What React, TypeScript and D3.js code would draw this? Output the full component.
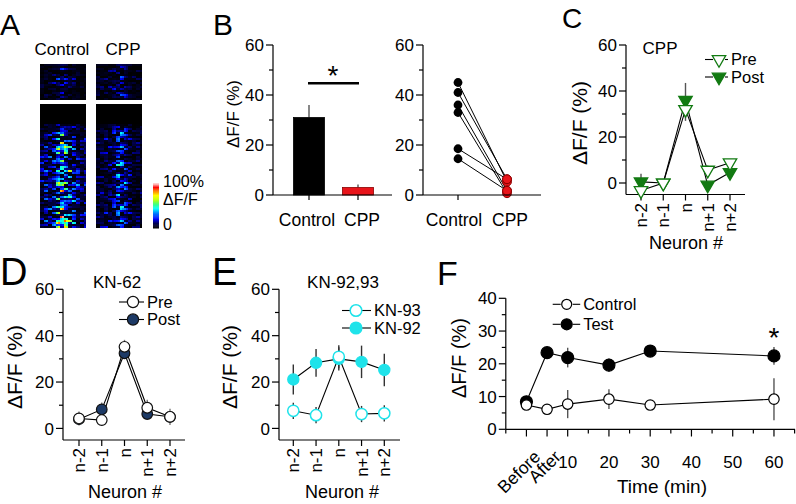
import { useEffect, useRef } from "react";
import * as d3 from "d3";

const FONT = "'Liberation Sans', Arial, Helvetica, sans-serif";

// ---- Panel A: heat maps (coarse grid, 2px cells) ----
const ctrlColProfile = [0.16, 0.18, 0.2, 0.22, 0.24, 0.26, 0.28, 0.32, 0.38, 0.46, 0.56, 0.62, 0.58, 0.48, 0.38, 0.32, 0.28, 0.25, 0.22, 0.2, 0.18, 0.16, 0.14];
const cppColProfile = [0.08, 0.09, 0.1, 0.1, 0.11, 0.12, 0.13, 0.15, 0.18, 0.22, 0.28, 0.32, 0.32, 0.28, 0.24, 0.18, 0.14, 0.12, 0.11, 0.1, 0.09, 0.09, 0.08];
const ctrlRowProfile = [
  0, 0, 0, 0, 0, 0, 0, 0, 0, 0, 0.3, 0.5, 0.6, 0.65, 0.7, 0.72, 0.74, 0.76, 0.78, 0.8,
  0.8, 0.82, 0.84, 0.85, 0.86, 0.86, 0.87, 0.88, 0.9, 0.9, 0.9, 0.92, 0.92, 0.94, 0.95, 0.96, 0.96, 0.97, 0.98, 0.98,
  1, 1, 1, 1, 1, 1, 1, 1, 1, 1, 1, 1, 1, 1, 1, 1, 1, 1, 1, 1, 1, 1,
];
const cppRowProfile = [
  0, 0, 0, 0, 0, 0, 0, 0, 0, 0, 0.4, 0.7, 0.8, 0.85, 0.9, 0.9, 0.9, 0.92, 0.92, 0.94,
  0.94, 0.95, 0.95, 0.96, 0.96, 0.97, 0.97, 0.98, 0.98, 1, 1, 1, 1, 1, 1, 1, 1, 1, 1, 1,
  1, 1, 1, 1, 1, 1, 1, 1, 1, 1, 1, 1, 1, 1, 1, 1, 1, 1, 1, 1, 1, 1,
];
const topRowProfile = [0.15, 0.2, 0.25, 0.3, 0.25, 0.2, 0.3, 0.35, 0.25, 0.3, 0.35, 0.4, 0.3, 0.25, 0.35, 0.3, 0.2, 0.15];
const texture = [0.2, 0.9, 0.4, 0.1, 0.7, 0.5, 0.95, 0.3, 0.05, 0.6, 0.8, 0.25, 0.45, 0.15, 0.85, 0.55, 0.35, 0.75, 0.1, 0.65, 0.9, 0.2, 0.5, 0.3, 0.7, 0.05, 0.4, 0.8, 0.6, 0.15, 1.0, 0.35, 0.25, 0.55, 0.45, 0.7, 0.1];
const colorStops = [0, 0.1, 0.2, 0.33, 0.43, 0.53, 0.63, 0.72, 0.82, 0.9, 1];
const colorValues = ["#000000", "#000050", "#0000ff", "#0080ff", "#00ffff", "#40ff80", "#c0ff00", "#ffff00", "#ff8000", "#ff0000", "#ffffff"];

// ---- Panel B ----
const barGroups = ["Control", "CPP"];
const barMeans = [31, 3];
const barErrors = [5, 1.2];
const pairedControl = [45, 41, 36, 33, 18.5, 14.5];
const pairedCpp = [5.3, 6.3, 1.7, 0.7, 6.3, 1.7];

// ---- Panels C-E ----
const neurons = ["n-2", "n-1", "n", "n+1", "n+2"];
const cppPre = [-3.3, 0, 32, 5.6, 8.8];
const cppPreErr = [1, 1.5, 5, 2, 1.5];
const cppPost = [0.5, 0, 36, -0.9, 4.6];
const cppPostErr = [3.5, 1, 7.5, 1, 1.5];
const kn62Pre = [4.3, 3.6, 35.2, 8.9, 5];
const kn62PreErr = [3, 2.5, 3, 3.5, 3.5];
const kn62Post = [4, 8.2, 32.4, 6.2, 5];
const kn62PostErr = [2, 3, 2, 2, 2];
const kn93 = [7.6, 5.7, 30.9, 6.2, 6.5];
const kn93Err = [3.5, 3.5, 5, 3.5, 3.5];
const kn92 = [21.1, 28.3, 30, 28.7, 25.2];
const kn92Err = [6.5, 6, 5, 7, 7];

// ---- Panel F ----
const fTimes = [0, 5, 10, 20, 30, 60];
const fControl = [7.4, 6.1, 7.7, 9.2, 7.4, 9.2];
const fControlErr = [1.5, 1, 4.3, 3, 1.5, 6.4];
const fTest = [8.4, 23.4, 21.9, 19.6, 23.9, 22.4];
const fTestErr = [1, 1, 3, 2, 1, 2.7];
const fMajorTicks = [0, 5, 10, 20, 30, 40, 50, 60];
const fMajorLabels = ["Before", "After", "10", "20", "30", "40", "50", "60"];
const fMinorTicks = [-5, 15, 25, 35, 45, 55, 65];

const GREEN = "#127a12";
const NAVY = "#1d3a66";
const CYAN = "#1fe3ea";
const RED = "#e8141a";

type Sel = d3.Selection<SVGGElement, unknown, null, undefined>;

function text(g: Sel, x: number, y: number, s: string, size: number, anchor = "start") {
  return g
    .append("text")
    .attr("x", x)
    .attr("y", y)
    .attr("text-anchor", anchor)
    .style("font-family", FONT)
    .style("font-size", `${size}px`)
    .attr("fill", "#000")
    .text(s);
}

function yAxis(g: Sel, y: d3.ScaleLinear<number, number>, x: number, majors: number[], minors: number[], size = 17) {
  const [r0, r1] = y.range();
  g.append("line").attr("x1", x).attr("x2", x).attr("y1", r0).attr("y2", r1).attr("stroke", "#000").attr("stroke-width", 1.2);
  majors.forEach((v) => {
    g.append("line").attr("x1", x - 7).attr("x2", x).attr("y1", y(v)).attr("y2", y(v)).attr("stroke", "#000").attr("stroke-width", 1.2);
    text(g, x - 9, y(v), String(v), size, "end").attr("dy", "0.36em");
  });
  minors.forEach((v) => {
    g.append("line").attr("x1", x - 4).attr("x2", x).attr("y1", y(v)).attr("y2", y(v)).attr("stroke", "#000").attr("stroke-width", 1.2);
  });
}

function xAxisLine(g: Sel, y: number, x0: number, x1: number, ticks: number[], len = 6) {
  g.append("line").attr("x1", x0).attr("x2", x1).attr("y1", y).attr("y2", y).attr("stroke", "#000").attr("stroke-width", 1.2);
  ticks.forEach((t) => {
    g.append("line").attr("x1", t).attr("x2", t).attr("y1", y).attr("y2", y + len).attr("stroke", "#000").attr("stroke-width", 1.2);
  });
}

function rotLabel(g: Sel, x: number, y: number, s: string, size: number) {
  text(g, x, y, s, size, "middle").attr("transform", `rotate(-90,${x},${y})`);
}

function errBars(g: Sel, xs: number[], y: d3.ScaleLinear<number, number>, vals: number[], errs: number[], color = "#555") {
  vals.forEach((v, i) => {
    g.append("line")
      .attr("x1", xs[i]).attr("x2", xs[i])
      .attr("y1", y(v - errs[i])).attr("y2", y(v + errs[i]))
      .attr("stroke", color).attr("stroke-width", 1.4);
  });
}

function seriesLine(g: Sel, xs: number[], y: d3.ScaleLinear<number, number>, vals: number[]) {
  const pts = vals.map((v, i) => [xs[i], y(v)] as [number, number]);
  g.append("path").attr("d", d3.line()(pts)).attr("fill", "none").attr("stroke", "#000").attr("stroke-width", 1.1);
}

function circles(g: Sel, xs: number[], y: d3.ScaleLinear<number, number>, vals: number[], r: number, fill: string, stroke: string, sw = 1.2) {
  vals.forEach((v, i) => {
    g.append("circle").attr("cx", xs[i]).attr("cy", y(v)).attr("r", r).attr("fill", fill).attr("stroke", stroke).attr("stroke-width", sw);
  });
}

const triPath = d3.symbol(d3.symbolTriangle, 78)()!;

function triangles(g: Sel, xs: number[], y: d3.ScaleLinear<number, number>, vals: number[], fill: string) {
  vals.forEach((v, i) => {
    g.append("path").attr("d", triPath).attr("transform", `translate(${xs[i]},${y(v)}) rotate(180)`)
      .attr("fill", fill).attr("stroke", GREEN).attr("stroke-width", 1.3);
  });
}

function legendItem(g: Sel, x: number, y: number, label: string, gap: number, drawMarker: (mx: number, my: number) => void) {
  g.append("line").attr("x1", x - 14).attr("x2", x - 6).attr("y1", y).attr("y2", y).attr("stroke", "#000").attr("stroke-width", 1.1);
  g.append("line").attr("x1", x + 6).attr("x2", x + gap - 3).attr("y1", y).attr("y2", y).attr("stroke", "#000").attr("stroke-width", 1.1);
  drawMarker(x, y);
  text(g, x + gap, y, label, 16.5).attr("dy", "0.36em");
}

function heatmap(g: Sel, x0: number, y0: number, cols: number[], rows: number[], color: (v: number) => string, seed: number) {
  const cell = 2;
  rows.forEach((rv, i) => {
    const rowTex = 0.6 + 0.6 * texture[(i * 17 + seed * 3) % texture.length];
    cols.forEach((cv, j) => {
      const jj = Math.floor(j / 2);
      const k = (i * i * 3 + jj * jj * 5 + i * jj * 7 + i * 11 + jj * 2 + seed) % texture.length;
      const tex = texture[k];
      const v = Math.min(1, cv * rv * rowTex * (0.05 + 1.7 * tex * tex));
      g.append("rect").attr("x", x0 + j * cell).attr("y", y0 + i * cell).attr("width", cell).attr("height", cell).attr("fill", color(v));
    });
  });
}

export default function App() {
  const ref = useRef<SVGSVGElement>(null);

  useEffect(() => {
    if (!ref.current) return;
    const root = d3.select(ref.current);
    root.selectAll("*").remove();
    const g = root.append("g") as unknown as Sel;

    // ===== Panel letters =====
    text(g, 0, 35, "A", 30);
    text(g, 213, 35, "B", 30);
    text(g, 562, 28, "C", 28);
    text(g, 0, 285, "D", 38);
    text(g, 212, 285, "E", 38);
    text(g, 437, 285, "F", 34);

    // ===== Panel A =====
    const cmap = d3.scaleLinear<string>().domain(colorStops).range(colorValues).clamp(true);
    text(g, 62, 55, "Control", 17, "middle");
    text(g, 123, 55, "CPP", 17, "middle");
    g.append("rect").attr("x", 40).attr("y", 64).attr("width", 46).attr("height", 164).attr("fill", "#000");
    g.append("rect").attr("x", 96).attr("y", 64).attr("width", 46).attr("height", 164).attr("fill", "#000");
    heatmap(g, 40, 64, ctrlColProfile, topRowProfile, cmap, 3);
    heatmap(g, 40, 104, ctrlColProfile, ctrlRowProfile, cmap, 0);
    heatmap(g, 96, 64, cppColProfile, topRowProfile.map((r) => r * 2.2), cmap, 17);
    heatmap(g, 96, 104, cppColProfile, cppRowProfile, cmap, 9);
    g.append("rect").attr("x", 38).attr("y", 100).attr("width", 106).attr("height", 4).attr("fill", "#fff");
    // colour bar
    const cbY = d3.scaleLinear().domain([0, 1]).range([228, 183]);
    d3.range(0, 1, 0.02).forEach((v) => {
      g.append("rect").attr("x", 153).attr("y", cbY(v + 0.02)).attr("width", 6).attr("height", cbY(v) - cbY(v + 0.02) + 0.5).attr("fill", cmap(v));
    });
    text(g, 163, 187, "100%", 16);
    text(g, 163, 205, "ΔF/F", 16);
    text(g, 163, 230, "0", 16);

    // ===== Panel B (bars) =====
    const yB = d3.scaleLinear().domain([0, 60]).range([195, 45]);
    const xB = d3.scalePoint<string>().domain(barGroups).range([309, 358]);
    barGroups.forEach((grp, i) => {
      const cx = xB(grp)!;
      g.append("line").attr("x1", cx).attr("x2", cx).attr("y1", yB(barMeans[i])).attr("y2", yB(barMeans[i] + barErrors[i])).attr("stroke", "#555").attr("stroke-width", 1.4);
      g.append("rect").attr("x", cx - 15.5).attr("y", yB(barMeans[i])).attr("width", 31).attr("height", yB(0) - yB(barMeans[i]))
        .attr("fill", i === 0 ? "#000" : RED).attr("stroke", i === 0 ? "#000" : "#8a0000").attr("stroke-width", 0.8);
    });
    yAxis(g, yB, 273, [0, 20, 40, 60], [10, 30, 50]);
    xAxisLine(g, 195, 273, 392, barGroups.map((d) => xB(d)!), 5);
    text(g, 307, 226, barGroups[0], 17.5, "middle");
    text(g, 362, 226, barGroups[1], 17.5, "middle");
    g.append("line").attr("x1", 308).attr("x2", 359).attr("y1", yB(44.7)).attr("y2", yB(44.7)).attr("stroke", "#000").attr("stroke-width", 2.5);
    text(g, 333, 85, "*", 28, "middle");
    rotLabel(g, 239, 114, "ΔF/F (%)", 17);

    // ===== Panel B (paired) =====
    const xB2 = d3.scalePoint<string>().domain(barGroups).range([458, 507]);
    pairedControl.forEach((v, i) => {
      g.append("line").attr("x1", xB2("Control")!).attr("x2", xB2("CPP")!).attr("y1", yB(v)).attr("y2", yB(pairedCpp[i])).attr("stroke", "#000").attr("stroke-width", 1);
    });
    pairedControl.forEach((v) => g.append("circle").attr("cx", xB2("Control")!).attr("cy", yB(v)).attr("r", 4.4).attr("fill", "#000"));
    pairedCpp.forEach((v) => g.append("circle").attr("cx", xB2("CPP")!).attr("cy", yB(v)).attr("r", 4.4).attr("fill", RED).attr("stroke", "#8a0000").attr("stroke-width", 1));
    yAxis(g, yB, 423, [0, 20, 40, 60], [10, 30, 50]);
    xAxisLine(g, 195, 423, 541, [xB2("Control")!], 5);
    text(g, 454, 226, barGroups[0], 17.5, "middle");
    text(g, 510, 226, barGroups[1], 17.5, "middle");

    // ===== Panel C =====
    const yC = d3.scaleLinear().domain([-5, 60]).range([194.5, 45]);
    const xC = d3.scalePoint<string>().domain(neurons).range([641, 730]);
    const xsC = neurons.map((n) => xC(n)!);
    yAxis(g, yC, 626, [0, 20, 40, 60], [10, 30, 50]);
    xAxisLine(g, 194.5, 626, 745, xsC, 6);
    neurons.forEach((n, i) => {
      text(g, xsC[i], 203, n, 17, "end").attr("dy", "0.36em").attr("transform", `rotate(-90,${xsC[i]},203)`);
    });
    errBars(g, xsC, yC, cppPost, cppPostErr);
    errBars(g, xsC, yC, cppPre, cppPreErr);
    seriesLine(g, xsC, yC, cppPost);
    seriesLine(g, xsC, yC, cppPre);
    triangles(g, xsC, yC, cppPost, GREEN);
    triangles(g, xsC, yC, cppPre, "#fff");
    text(g, 660, 54, "CPP", 17, "middle");
    legendItem(g, 719, 59.5, "Pre", 12, (mx, my) => {
      g.append("path").attr("d", triPath).attr("transform", `translate(${mx},${my}) rotate(180)`).attr("fill", "#fff").attr("stroke", GREEN).attr("stroke-width", 1.3);
    });
    legendItem(g, 719, 77, "Post", 12, (mx, my) => {
      g.append("path").attr("d", triPath).attr("transform", `translate(${mx},${my}) rotate(180)`).attr("fill", GREEN).attr("stroke", GREEN).attr("stroke-width", 1.3);
    });
    rotLabel(g, 587, 123, "ΔF/F (%)", 21);
    text(g, 686, 249, "Neuron #", 18, "middle");

    // ===== Panel D =====
    const yD = d3.scaleLinear().domain([-5, 60]).range([440, 289.3]);
    const xD = d3.scalePoint<string>().domain(neurons).range([79, 170]);
    const xsD = neurons.map((n) => xD(n)!);
    yAxis(g, yD, 63, [0, 20, 40, 60], [10, 30, 50]);
    xAxisLine(g, 440, 63, 185, xsD, 6);
    neurons.forEach((n, i) => {
      text(g, xsD[i], 448, n, 17, "end").attr("dy", "0.36em").attr("transform", `rotate(-90,${xsD[i]},448)`);
    });
    errBars(g, xsD, yD, kn62Post, kn62PostErr, "#777");
    errBars(g, xsD, yD, kn62Pre, kn62PreErr, "#777");
    seriesLine(g, xsD, yD, kn62Post);
    seriesLine(g, xsD, yD, kn62Pre);
    circles(g, xsD, yD, kn62Post, 5.3, NAVY, "#111");
    circles(g, xsD, yD, kn62Pre, 5.3, "#fff", "#111");
    text(g, 117, 288, "KN-62", 17, "middle");
    legendItem(g, 133, 302, "Pre", 14, (mx, my) => {
      g.append("circle").attr("cx", mx).attr("cy", my).attr("r", 5.6).attr("fill", "#fff").attr("stroke", "#111").attr("stroke-width", 1.2);
    });
    legendItem(g, 133, 319.5, "Post", 14, (mx, my) => {
      g.append("circle").attr("cx", mx).attr("cy", my).attr("r", 5.6).attr("fill", NAVY).attr("stroke", "#111").attr("stroke-width", 1.2);
    });
    rotLabel(g, 22, 367, "ΔF/F (%)", 21);
    text(g, 125, 498, "Neuron #", 18, "middle");

    // ===== Panel E =====
    const xE = d3.scalePoint<string>().domain(neurons).range([293.3, 384.3]);
    const xsE = neurons.map((n) => xE(n)!);
    yAxis(g, yD, 279, [0, 20, 40, 60], [10, 30, 50]);
    xAxisLine(g, 440, 279, 400, xsE, 6);
    neurons.forEach((n, i) => {
      text(g, xsE[i], 448, n, 17, "end").attr("dy", "0.36em").attr("transform", `rotate(-90,${xsE[i]},448)`);
    });
    errBars(g, xsE, yD, kn92, kn92Err, "#333");
    errBars(g, xsE, yD, kn93, kn93Err, "#333");
    seriesLine(g, xsE, yD, kn92);
    seriesLine(g, xsE, yD, kn93);
    circles(g, xsE, yD, kn92, 5.6, CYAN, CYAN);
    circles(g, xsE, yD, kn93, 5.6, "#fff", CYAN, 1.5);
    text(g, 343, 288, "KN-92,93", 17, "middle");
    legendItem(g, 356, 310.5, "KN-93", 18, (mx, my) => {
      g.append("circle").attr("cx", mx).attr("cy", my).attr("r", 5.8).attr("fill", "#fff").attr("stroke", CYAN).attr("stroke-width", 1.5);
    });
    legendItem(g, 356, 328, "KN-92", 18, (mx, my) => {
      g.append("circle").attr("cx", mx).attr("cy", my).attr("r", 5.8).attr("fill", CYAN).attr("stroke", CYAN).attr("stroke-width", 1.5);
    });
    rotLabel(g, 237, 367, "ΔF/F (%)", 21);
    text(g, 342, 498, "Neuron #", 18, "middle");

    // ===== Panel F =====
    const yF = d3.scaleLinear().domain([0, 40]).range([429.3, 298.3]);
    const xF = d3.scaleLinear().domain([-5, 65]).range([505.8, 794.6]);
    yAxis(g, yF, 505.8, [0, 10, 20, 30, 40], [5, 15, 25, 35]);
    g.append("line").attr("x1", 505.8).attr("x2", 795).attr("y1", 429.3).attr("y2", 429.3).attr("stroke", "#000").attr("stroke-width", 1.2);
    fMajorTicks.forEach((t, i) => {
      const x = xF(t);
      g.append("line").attr("x1", x).attr("x2", x).attr("y1", 429.3).attr("y2", 436.5).attr("stroke", "#000").attr("stroke-width", 1.2);
      if (i < 2) {
        text(g, x + 6, 449, fMajorLabels[i], 17.5, "end").attr("dy", "0.72em").attr("transform", `rotate(-45,${x + 6},449)`);
      } else {
        text(g, x, 468, fMajorLabels[i], 17, "middle");
      }
    });
    fMinorTicks.forEach((t) => {
      const x = xF(t);
      g.append("line").attr("x1", x).attr("x2", x).attr("y1", 429.3).attr("y2", 433.5).attr("stroke", "#000").attr("stroke-width", 1.2);
    });
    const xsF = fTimes.map((t) => xF(t));
    errBars(g, xsF, yF, fTest, fTestErr);
    errBars(g, xsF, yF, fControl, fControlErr);
    seriesLine(g, xsF, yF, fTest);
    seriesLine(g, xsF, yF, fControl);
    circles(g, xsF, yF, fTest, 6, "#000", "#000");
    circles(g, xsF, yF, fControl, 5.2, "#fff", "#000");
    text(g, 774, 347, "*", 28, "middle");
    legendItem(g, 566.7, 304.3, "Control", 16.5, (mx, my) => {
      g.append("circle").attr("cx", mx).attr("cy", my).attr("r", 5).attr("fill", "#fff").attr("stroke", "#000").attr("stroke-width", 1.2);
    });
    legendItem(g, 566.7, 324.3, "Test", 16.5, (mx, my) => {
      g.append("circle").attr("cx", mx).attr("cy", my).attr("r", 5.5).attr("fill", "#000").attr("stroke", "#000").attr("stroke-width", 1.2);
    });
    rotLabel(g, 466, 358, "ΔF/F (%)", 20);
    text(g, 662, 493, "Time (min)", 19, "middle");
  }, []);

  return (
    <svg
      ref={ref}
      width={796}
      height={504}
      style={{ position: "absolute", left: 0, top: 0, background: "#fff" }}
    />
  );
}
